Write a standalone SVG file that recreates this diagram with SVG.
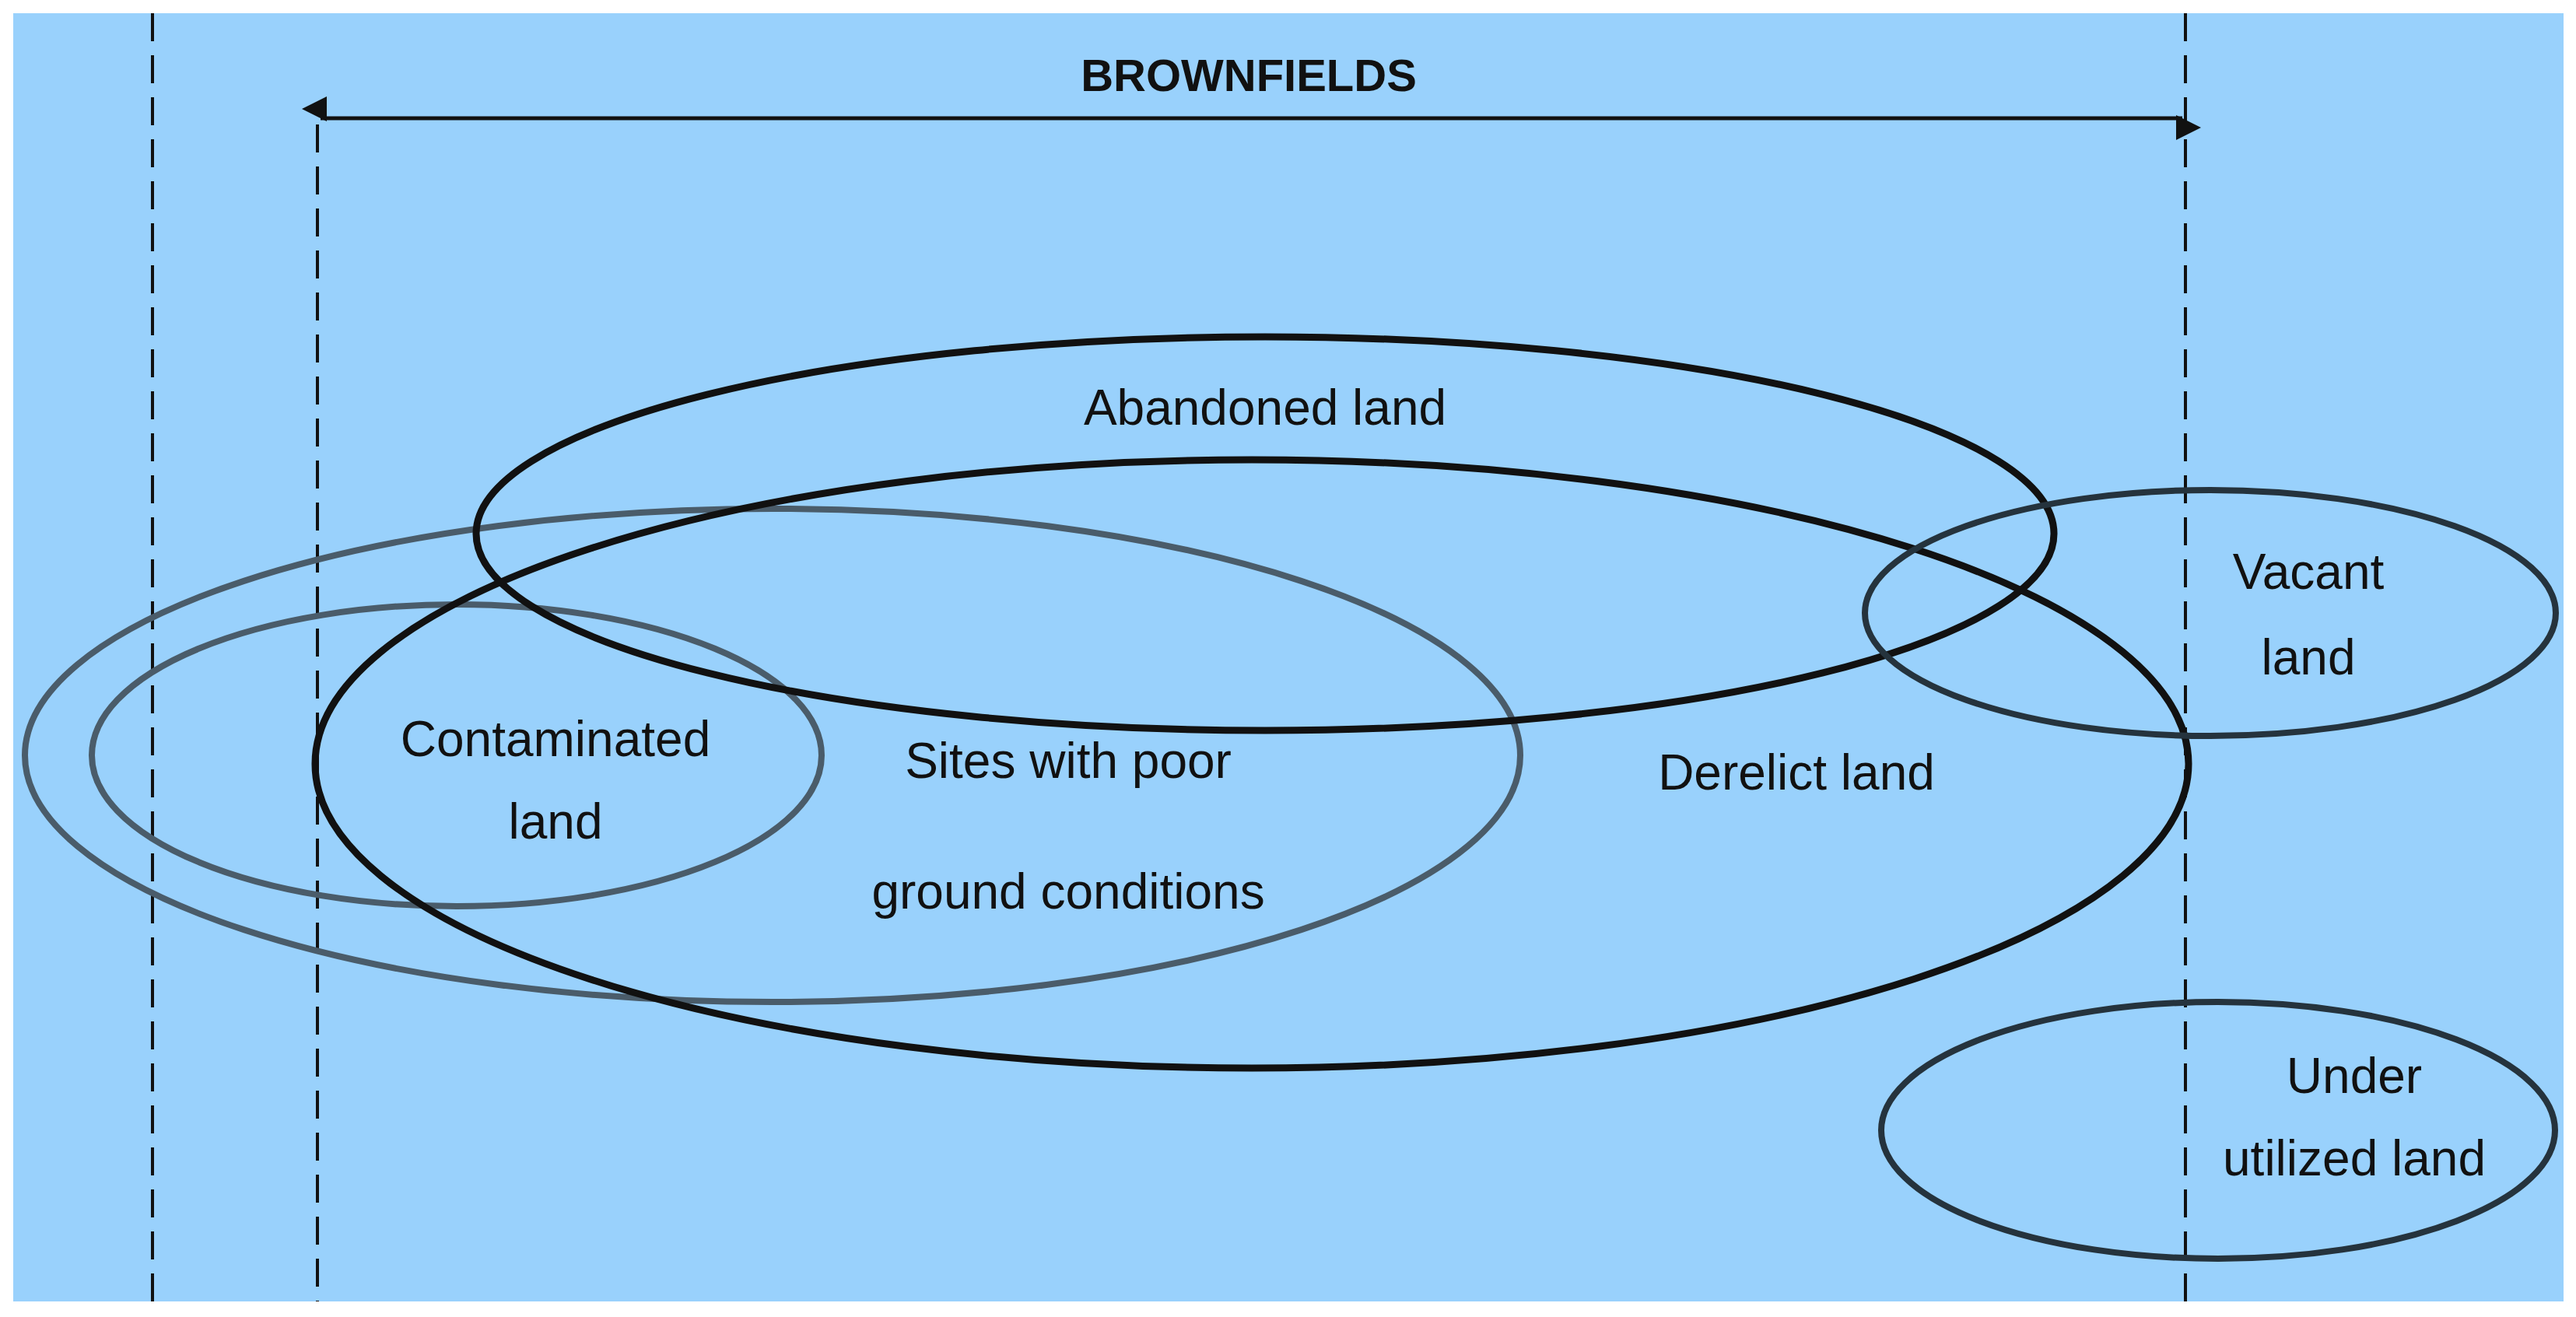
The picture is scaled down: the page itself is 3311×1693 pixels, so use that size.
<svg xmlns="http://www.w3.org/2000/svg" width="3311" height="1693" viewBox="0 0 3311 1693">
<style>
.t{font-family:"Liberation Sans Narrow","Liberation Sans",Arial,sans-serif;font-size:64px;fill:#111;text-anchor:middle}
.dash{stroke:#111;stroke-width:4;stroke-dasharray:36 18;fill:none}
.blk{fill:none;stroke:#111;stroke-width:9}
.gry{fill:none;stroke:#4a5c6a;stroke-width:8}
.dk{fill:none;stroke:#25333d;stroke-width:8}
</style>
<defs>
<marker id="ah" viewBox="0 0 10 10" refX="10" refY="5" markerWidth="8" markerHeight="8" orient="auto-start-reverse" markerUnits="userSpaceOnUse" style="overflow:visible">
<path d="M0,0 L10,5 L0,10 z" fill="#111" transform="scale(4)"/>
</marker>
</defs>
<rect width="3311" height="1693" fill="#fff"/>
<rect x="17" y="17" width="3278" height="1656" fill="#99d1fc"/>
<g id="connectors">
<line class="dash" x1="196" y1="17" x2="196" y2="1673"/>
<line class="dash" x1="408" y1="160" x2="408" y2="1673"/>
<line class="dash" x1="2809" y1="17" x2="2809" y2="1673"/>
<line x1="412" y1="152" x2="2805" y2="152" stroke="#111" stroke-width="5" marker-start="url(#ah)" marker-end="url(#ah)"/>
</g>
<g id="brownfields"><text class="t" x="1605" y="117" style="font-weight:bold;font-size:58px">BROWNFIELDS</text></g>
<g id="sites"><ellipse class="gry" cx="993" cy="971" rx="961" ry="317"/><text class="t" x="1373" y="1000">Sites with poor</text><text class="t" x="1373" y="1168">ground conditions</text></g>
<g id="contaminated"><ellipse class="gry" cx="587" cy="971" rx="469" ry="194"/><text class="t" x="714" y="972">Contaminated</text><text class="t" x="714" y="1078">land</text></g>
<g id="abandoned"><ellipse class="blk" cx="1626" cy="686" rx="1014" ry="253"/><text class="t" x="1626" y="546">Abandoned land</text></g>
<g id="derelict"><ellipse class="blk" cx="1609" cy="982" rx="1204" ry="391"/><text class="t" x="2309" y="1015">Derelict land</text></g>
<g id="vacant"><ellipse class="dk" cx="2841" cy="788" rx="444" ry="158"/><text class="t" x="2967" y="757">Vacant</text><text class="t" x="2967" y="867">land</text></g>
<g id="underutilized"><ellipse class="dk" cx="2851" cy="1453" rx="433" ry="165"/><text class="t" x="3026" y="1405">Under</text><text class="t" x="3026" y="1511">utilized land</text></g>
</svg>
